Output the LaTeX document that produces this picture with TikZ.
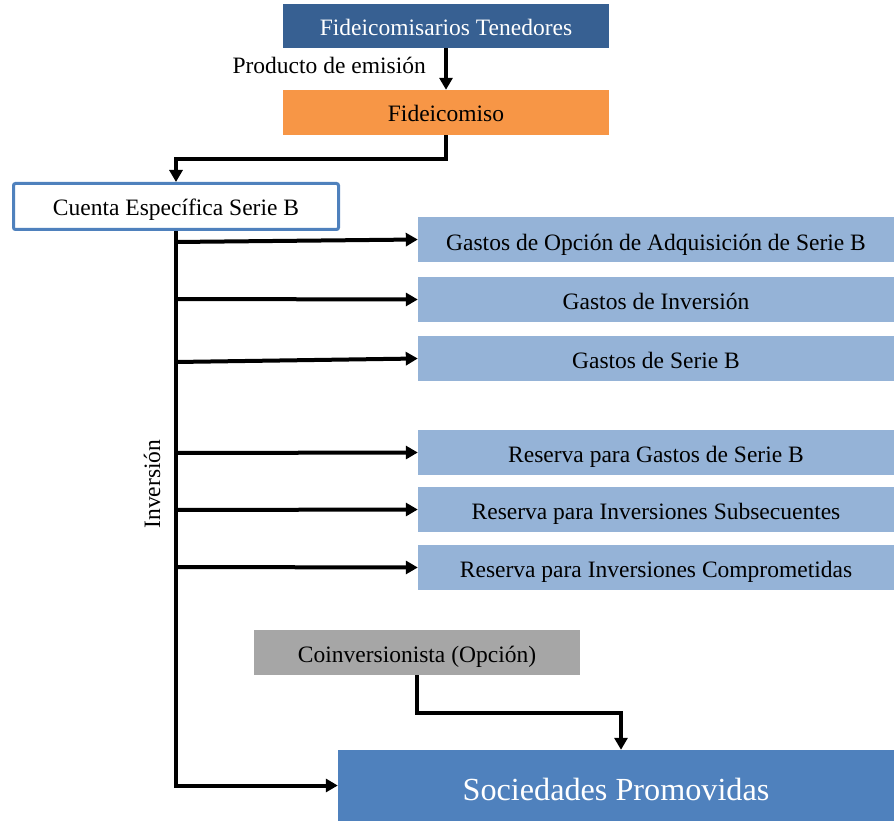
\documentclass[tikz,border=0pt]{standalone}
\usepackage{fontspec}
\setmainfont{Liberation Serif}
\usetikzlibrary{arrows.meta,calc}
\definecolor{darkblue}{HTML}{376092}
\definecolor{orangefill}{HTML}{F79646}
\definecolor{lightblue}{HTML}{95B3D7}
\definecolor{midblue}{HTML}{4F81BD}
\definecolor{greyfill}{HTML}{A6A6A6}
\begin{document}
\begin{tikzpicture}[x=1pt,y=-1pt,
  box/.style={rectangle, inner sep=0pt, minimum height=45pt,
    text height=19pt, text depth=0pt,
    font=\fontsize{23.5}{28}\selectfont},
  lbl/.style={inner sep=0pt, font=\fontsize{23.5}{28}\selectfont},
  wide/.style={box, fill=lightblue, minimum width=476pt},
  link/.style={line width=4pt, -{Triangle[length=12pt,width=13pt]}}]
\useasboundingbox (0,0) rectangle (894,821);

% top chain
\node[box, fill=darkblue, text=white, minimum width=326pt, minimum height=44pt]
  (top) at (446,26) {Fideicomisarios Tenedores};
\node[box, fill=orangefill, minimum width=326pt] (fid) at (446,112.5) {Fideicomiso};
\node[box, fill=white, draw=midblue, line width=3pt, rounded corners=2pt,
  minimum width=325pt, minimum height=46pt] (cuenta) at (176,206.5) {Cuenta Específica Serie B};

% destination accounts
\node[wide, text height=22pt] (g1) at (656,239.5) {Gastos de Opción de Adquisición de Serie B};
\node[wide] (g2) at (656,299.5) {Gastos de Inversión};
\node[wide] (g3) at (656,358.5) {Gastos de Serie B};
\node[wide] (r1) at (656,452.5) {Reserva para Gastos de Serie B};
\node[wide] (r2) at (656,509.5) {Reserva para Inversiones Subsecuentes};
\node[wide] (r3) at (656,567.5) {Reserva para Inversiones Comprometidas};

% bottom
\node[box, fill=greyfill, minimum width=326pt] (coin) at (417,652.5) {Coinversionista (Opción)};
\node[box, fill=midblue, text=white, minimum width=556pt, minimum height=71pt,
  text height=29pt, font=\fontsize{32.2}{38}\selectfont] (soc) at (616,785.5) {Sociedades Promovidas};

% labels
\node[lbl, anchor=base east] (prod) at (426,74) {Producto de emisión};
\node[lbl, rotate=90] (inv) at (152,484) {Inversión};

% connectors
\draw[link] (top) -- (fid);
\draw[link] (fid.south) -- ++(0,24) -| (cuenta.north);
\draw[link] (cuenta.south) |- (soc.west);
\draw[link] (cuenta.south |- 0,242) -- (g1.west);
\draw[link] (cuenta.south |- 0,299) -- (g2.west);
\draw[link] (cuenta.south |- 0,362) -- (g3.west);
\draw[link] (cuenta.south |- 0,453) -- (r1.west);
\draw[link] (cuenta.south |- 0,510) -- (r2.west);
\draw[link] (cuenta.south |- 0,567) -- (r3.west);
\draw[link] (coin.south) -- ++(0,38) -| ($(soc.north)+(5,0)$);
\end{tikzpicture}
\end{document}
